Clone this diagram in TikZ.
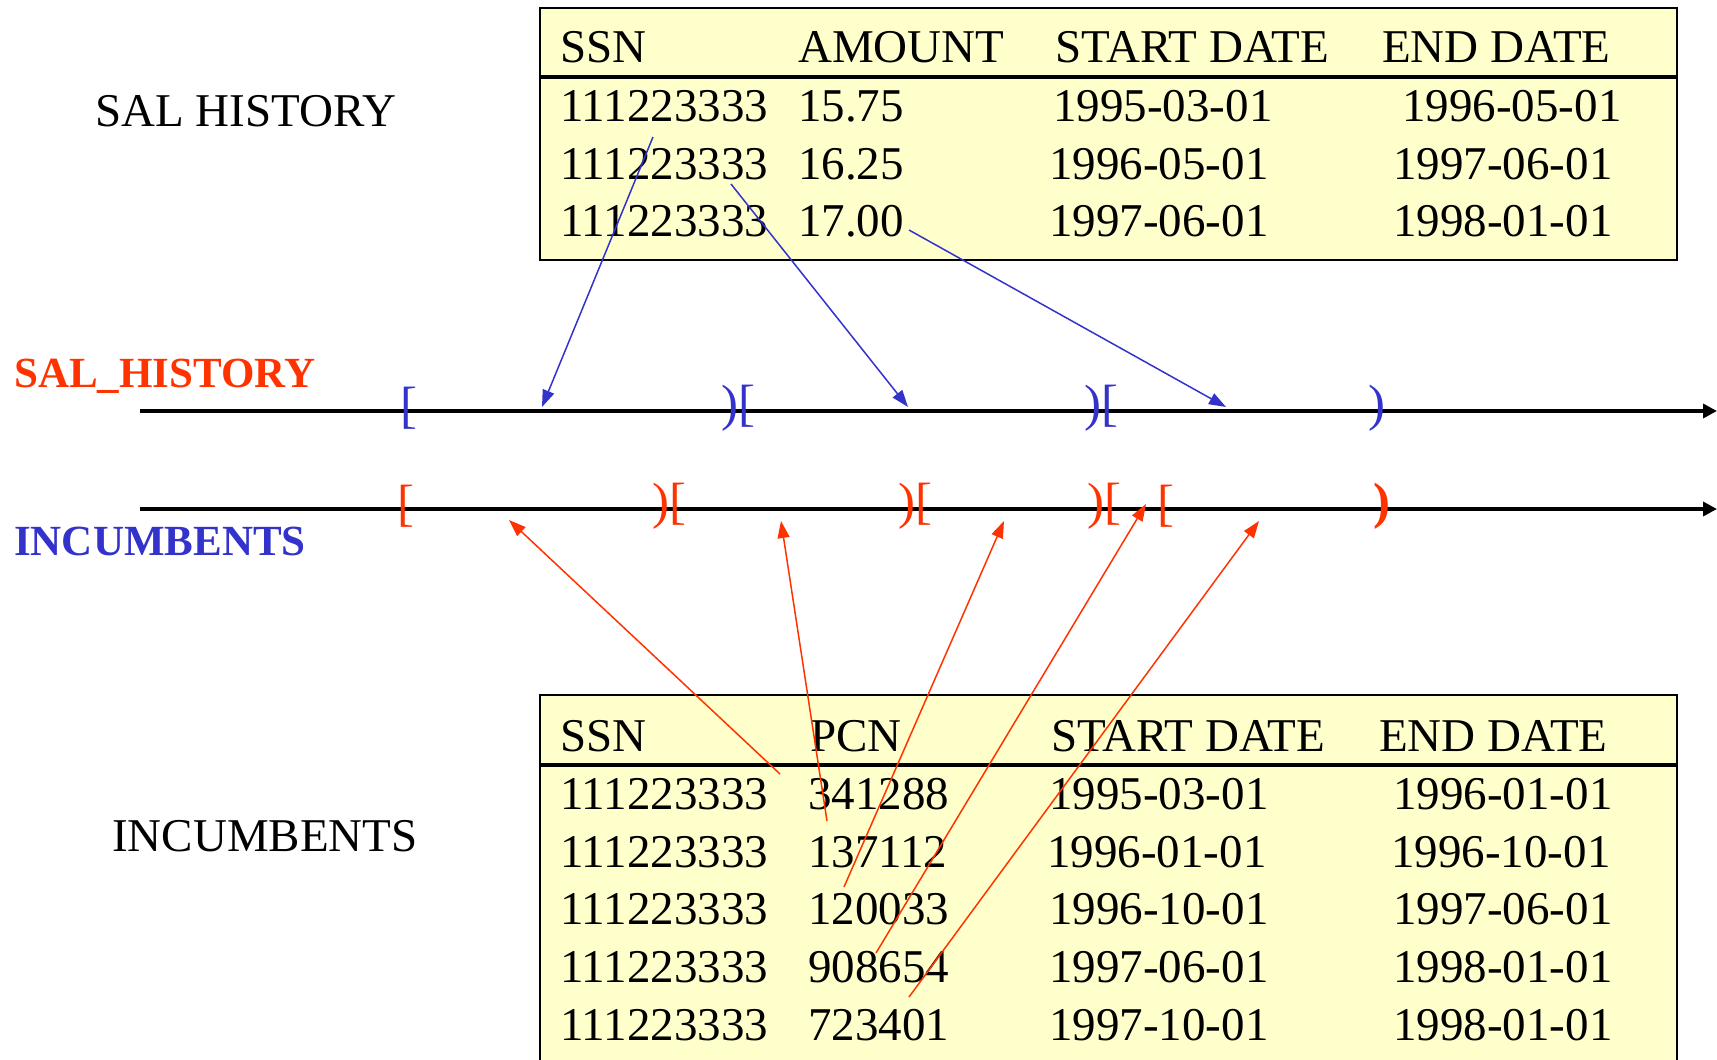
\documentclass[tikz,border=0pt]{standalone}
\usepackage{fontspec}
\setmainfont{Liberation Serif}
\usetikzlibrary{arrows.meta}
\definecolor{tblue}{HTML}{3333CC}
\definecolor{tred}{HTML}{FF3300}
\definecolor{tfill}{HTML}{FFFFCC}
\tikzset{
  cell/.style={anchor=west, inner sep=0pt, font=\fontsize{47}{50}\selectfont},
  lbl/.style={anchor=west, inner sep=0pt, font=\fontsize{47}{50}\selectfont},
  blbl/.style={anchor=west, inner sep=0pt, font=\fontsize{43}{46}\selectfont\bfseries},
  brk/.style={inner sep=0pt, font=\fontsize{51}{54}\selectfont},
  tbl/.style={draw=black, line width=2pt, fill=tfill},
  hsep/.style={line width=4pt},
  tline/.style={line width=4pt, -{Triangle[length=14pt,width=14pt]}},
  barr/.style={draw=tblue, line width=1.5pt, -{Triangle[length=17pt,width=12pt]}},
  rarr/.style={draw=tred, line width=1.5pt, -{Triangle[length=17pt,width=12pt]}},
}
\begin{document}
\begin{tikzpicture}[x=1pt,y=-1pt]
\clip (0,0) rectangle (1717,1060);
\fill[white] (0,0) rectangle (1717,1060);

% top table
\draw[tbl] (540,8) rectangle (1677,260);
\draw[hsep] (540,77) -- (1677,77);
\node[cell] (h1) at (560,47) {SSN};
\node[cell] (h2) at (798,47) {AMOUNT};
\node[cell] (h3) at (1055,47) {START DATE};
\node[cell] (h4) at (1382,47) {END DATE};
\node[cell] (a11) at (560,106) {111223333};
\node[cell] (a12) at (798,106) {15.75};
\node[cell] (a13) at (1053,106) {1995-03-01};
\node[cell] (a14) at (1402,106) {1996-05-01};
\node[cell] (a21) at (560,164) {111223333};
\node[cell] (a22) at (798,164) {16.25};
\node[cell] (a23) at (1049,164) {1996-05-01};
\node[cell] (a24) at (1393,164) {1997-06-01};
\node[cell] (a31) at (560,221) {111223333};
\node[cell] (a32) at (798,221) {17.00};
\node[cell] (a33) at (1049,221) {1997-06-01};
\node[cell] (a34) at (1393,221) {1998-01-01};

% bottom table
\draw[tbl] (540,695) rectangle (1677,1080);
\draw[hsep] (540,765) -- (1677,765);
\node[cell] (g1) at (560,736) {SSN};
\node[cell] (g2) at (810,736) {PCN};
\node[cell] (g3) at (1051,736) {START DATE};
\node[cell] (g4) at (1379,736) {END DATE};
\node[cell] (b11) at (560,794) {111223333};
\node[cell] (b12) at (808,794) {341288};
\node[cell] (b13) at (1049,794) {1995-03-01};
\node[cell] (b14) at (1393,794) {1996-01-01};
\node[cell] (b21) at (560,852) {111223333};
\node[cell] (b22) at (808,852) {137112};
\node[cell] (b23) at (1047,852) {1996-01-01};
\node[cell] (b24) at (1391,852) {1996-10-01};
\node[cell] (b31) at (560,909) {111223333};
\node[cell] (b32) at (808,909) {120033};
\node[cell] (b33) at (1049,909) {1996-10-01};
\node[cell] (b34) at (1393,909) {1997-06-01};
\node[cell] (b41) at (560,967) {111223333};
\node[cell] (b42) at (808,967) {908654};
\node[cell] (b43) at (1049,967) {1997-06-01};
\node[cell] (b44) at (1393,967) {1998-01-01};
\node[cell] (b51) at (560,1025) {111223333};
\node[cell] (b52) at (808,1025) {723401};
\node[cell] (b53) at (1049,1025) {1997-10-01};
\node[cell] (b54) at (1393,1025) {1998-01-01};

% labels
\node[lbl] (salh) at (95,111) {SAL HISTORY};
\node[lbl] (inc) at (112,836) {INCUMBENTS};
\node[blbl, text=tred] (salhb) at (14,376) {SAL\_HISTORY};
\node[blbl, text=tblue] (incb) at (14,541) {INCUMBENTS};

% timelines
\coordinate (t1s) at (140,411);
\coordinate (t1e) at (1717,411);
\coordinate (t2s) at (140,509);
\coordinate (t2e) at (1717,509);
\draw[tline] (t1s) -- (t1e);
\draw[tline] (t2s) -- (t2e);

% brackets top (blue)
\node[brk, text=tblue] (p1) at (409,408) {[};
\node[brk, text=tblue] (p2) at (738,408) {)[};
\node[brk, text=tblue] (p3) at (1101,408) {)[};
\node[brk, text=tblue] (p4) at (1377,408) {)};
% brackets bottom (red)
\node[brk, text=tred] (q1) at (406,506) {[};
\node[brk, text=tred] (q2) at (669,506) {)[};
\node[brk, text=tred] (q3) at (915,506) {)[};
\node[brk, text=tred] (q4) at (1104,506) {)[};
\node[brk, text=tred] (q5) at (1166,506) {[};
\node[brk, text=tred] (q6) at (1382,506) {\textbf{)}};

% blue arrows
\coordinate (bs1) at (653,137); \coordinate (be1) at (542,407);
\coordinate (bs2) at (731,184); \coordinate (be2) at (908,407);
\coordinate (bs3) at (909,230); \coordinate (be3) at (1226,407);
\draw[barr] (bs1) -- (be1);
\draw[barr] (bs2) -- (be2);
\draw[barr] (bs3) -- (be3);

% red arrows
\coordinate (rs1) at (780,774); \coordinate (re1) at (509,520);
\coordinate (rs2) at (827,821); \coordinate (re2) at (781,521);
\coordinate (rs3) at (844,887); \coordinate (re3) at (1004,521);
\coordinate (rs4) at (876,953); \coordinate (re4) at (1146,504);
\coordinate (rs5) at (909,997); \coordinate (re5) at (1259,521);
\draw[rarr] (rs1) -- (re1);
\draw[rarr] (rs2) -- (re2);
\draw[rarr] (rs3) -- (re3);
\draw[rarr] (rs4) -- (re4);
\draw[rarr] (rs5) -- (re5);
\end{tikzpicture}
\end{document}
